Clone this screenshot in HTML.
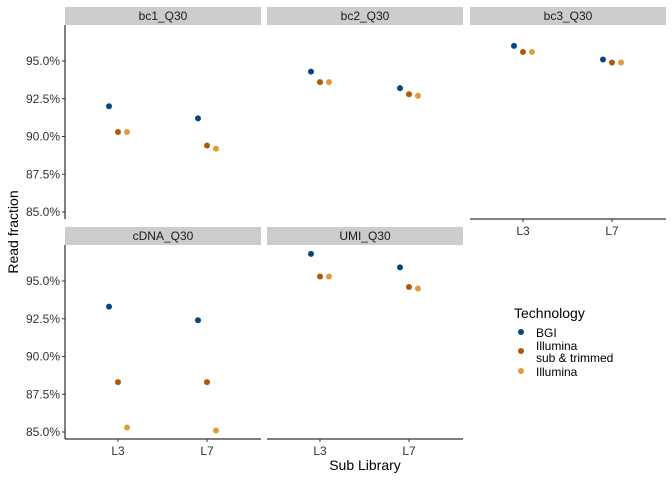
<!DOCTYPE html>
<html><head><meta charset="utf-8"><style>
body{margin:0;background:#fff}
svg{display:block;font-family:"Liberation Sans",sans-serif}
</style></head><body>
<svg id="chart" width="672" height="480"></svg>
<script>
const panels = ["bc1_Q30","bc2_Q30","bc3_Q30","cDNA_Q30","UMI_Q30"];
const categories = ["L3","L7"];
const seriesNames = ["BGI","Illumina sub & trimmed","Illumina"];
const bgiValues = [[92.0,91.2],[94.3,93.2],[96.0,95.1],[93.3,92.4],[96.8,95.9]];
const subValues = [[90.3,89.4],[93.6,92.8],[95.6,94.9],[88.3,88.3],[95.3,94.6]];
const illValues = [[90.3,89.2],[93.6,92.7],[95.6,94.9],[85.3,85.1],[95.3,94.5]];
const yTicks = [85,87.5,90,92.5,95];
const yTickLabels = ["85.0%","87.5%","90.0%","92.5%","95.0%"];

const colors = ["#08457e","#b35806","#e09c3a"];
const NS="http://www.w3.org/2000/svg";
const svg=document.getElementById("chart");
function mk(tag,attrs,parent){const e=document.createElementNS(NS,tag);for(const k in attrs)e.setAttribute(k,attrs[k]);(parent||svg).appendChild(e);return e;}
const layout=[{x:65,top:25,row:0,col:0},{x:267,top:25,row:0,col:1},{x:470,top:25,row:0,col:2},{x:65,top:245,row:1,col:0},{x:267,top:245,row:1,col:1}];
const PW=196, PH=194;
function yScale(v,top){return top+36+(95-v)*15.1;}
function xScale(i,px){return px+53+i*89;}
const allSeries=[bgiValues,subValues,illValues];
const dodge=[-9,0,9];
panels.forEach((name,p)=>{
  const L=layout[p];
  const g=mk("g",{});
  
  
  const s=mk("rect",{x:L.x,y:L.top-18,width:PW,height:18,fill:"#cccccc"},g);
  
  
  const st=mk("text",{x:L.x+PW/2,y:L.top-5,"text-anchor":"middle","font-size":12,fill:"#1a1a1a"},g);
  st.textContent=name;
  
  
  if(L.col===0){
    mk("line",{x1:L.x,y1:L.top,x2:L.x,y2:L.top+PH,stroke:"#000","stroke-width":1},g);
    yTicks.forEach((t,i)=>{const y=yScale(t,L.top);
      mk("line",{x1:L.x-3,y1:y,x2:L.x,y2:y,stroke:"#333"},g);
      const tx=mk("text",{x:L.x-5,y:y+4,"text-anchor":"end","font-size":12,fill:"#333"},g);
      tx.textContent=yTickLabels[i];
      
      });
  }
  if(L.row===1||p===2){
    const by=L.top+PH;
    mk("line",{x1:L.x,y1:by,x2:L.x+PW,y2:by,stroke:"#000","stroke-width":1},g);
    categories.forEach((c,i)=>{const x=xScale(i,L.x);
      mk("line",{x1:x,y1:by,x2:x,y2:by+3,stroke:"#333"},g);
      const tx=mk("text",{x:x,y:by+16,"text-anchor":"middle","font-size":12,fill:"#333"},g);
      tx.textContent=c;
      
      });
  }
  allSeries.forEach((ser,si)=>{
    categories.forEach((c,i)=>{
      const pt=mk("circle",{cx:xScale(i,L.x)+dodge[si],cy:yScale(ser[p][i],L.top),r:3,fill:colors[si]},g);
      
      
    });
  });
});
const yt=mk("text",{x:18,y:232,"text-anchor":"middle","font-size":14,fill:"#000",transform:"rotate(-90 18 232)"});
yt.textContent="Read fraction";


const xt=mk("text",{x:365,y:470,"text-anchor":"middle","font-size":14,fill:"#000"});
xt.textContent="Sub Library";


const lt=mk("text",{x:514,y:318,"font-size":14,fill:"#000"});
lt.textContent="Technology";


const ly=[332,351,371];
const llines=[["BGI"],["Illumina","sub & trimmed"],["Illumina"]];
ly.forEach((y,i)=>{
  const c=mk("circle",{cx:521,cy:y,r:3,fill:colors[i]});
  
  
  const t=mk("text",{x:536,y:y+5-(llines[i].length-1)*6,"font-size":12,fill:"#000"});
  
  
  llines[i].forEach((s,k)=>{const ts=mk("tspan",{x:536,dy:k?12:0},t);ts.textContent=s;});
});
</script>
</body></html>
